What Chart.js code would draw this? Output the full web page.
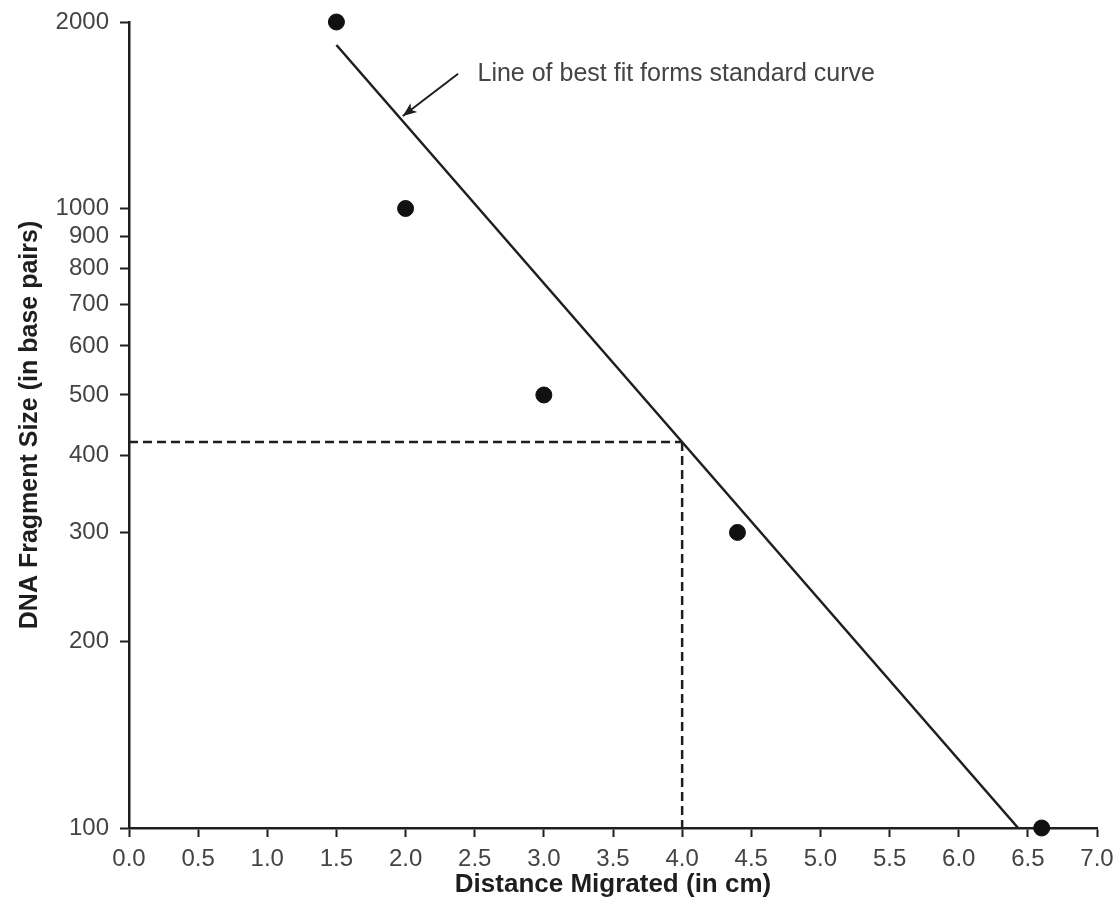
<!DOCTYPE html>
<html>
<head>
<meta charset="utf-8">
<script src="https://cdn.jsdelivr.net/npm/chart.js@4/dist/chart.umd.min.js"></script>
<style>
  body { margin: 0; background: #fff; }
  #wrap { width: 1117px; height: 913px; }
</style>
</head>
<body>
<div id="wrap"><canvas id="chart"></canvas></div>
<script>
// measured standards: distance (cm) vs fragment size (bp)
const distances = [1.5, 2.0, 3.0, 4.4, 6.6];
const sizes = [2000, 1000, 500, 300, 100];

// line of best fit
const fitX = [1.5, 6.43];
const fitY = [1836, 100];

// unknown read at 4.0 cm -> ~420 bp
const unknownX = 4.0;
const unknownY = 420;

const xTicks = [0, 0.5, 1, 1.5, 2, 2.5, 3, 3.5, 4, 4.5, 5, 5.5, 6, 6.5, 7];
const yTicks = [100, 200, 300, 400, 500, 600, 700, 800, 900, 1000, 2000];

const noteText = 'Line of best fit forms standard curve';
const noteAt = [2.52, 1650];
const arrowFrom = [2.38, 1650];
const arrowTo = [1.98, 1410];

const ink = '#1e1e1e';
const labelInk = '#444';
const font = "'Liberation Sans', Arial, sans-serif";

const notePlugin = {
    id: 'note',
    afterDatasetsDraw(chart) {
        const { ctx, scales: { x, y } } = chart;
        const x1 = x.getPixelForValue(arrowFrom[0]), y1 = y.getPixelForValue(arrowFrom[1]);
        const x2 = x.getPixelForValue(arrowTo[0]), y2 = y.getPixelForValue(arrowTo[1]);
        ctx.save();
        ctx.strokeStyle = ink;
        ctx.fillStyle = ink;
        ctx.lineWidth = 2;
        ctx.beginPath();
        ctx.moveTo(x1, y1);
        ctx.lineTo(x2, y2);
        ctx.stroke();
        // arrow head
        const a = Math.atan2(y2 - y1, x2 - x1);
        const L = 15, w = 0.38;
        ctx.beginPath();
        ctx.moveTo(x2, y2);
        ctx.lineTo(x2 - L * Math.cos(a - w), y2 - L * Math.sin(a - w));
        ctx.lineTo(x2 - L * 0.7 * Math.cos(a), y2 - L * 0.7 * Math.sin(a));
        ctx.lineTo(x2 - L * Math.cos(a + w), y2 - L * Math.sin(a + w));
        ctx.closePath();
        ctx.fill();
        ctx.fillStyle = labelInk;
        ctx.font = '25px ' + font;
        ctx.textBaseline = 'middle';
        ctx.textAlign = 'left';
        ctx.fillText(noteText, x.getPixelForValue(noteAt[0]), y.getPixelForValue(noteAt[1]));
        ctx.restore();
    }
};

new Chart(document.getElementById('chart'), {
    type: 'scatter',
    data: {
        datasets: [
            {
                label: 'best fit',
                data: fitX.map((v, i) => ({ x: v, y: fitY[i] })),
                showLine: true,
                borderColor: ink,
                borderWidth: 2.5,
                pointRadius: 0
            },
            {
                label: 'read across',
                data: [{ x: 0, y: unknownY }, { x: unknownX, y: unknownY }],
                showLine: true,
                borderColor: ink,
                borderWidth: 2.5,
                borderDash: [9, 5],
                pointRadius: 0
            },
            {
                label: 'read down',
                data: [{ x: unknownX, y: unknownY }, { x: unknownX, y: 100 }],
                showLine: true,
                borderColor: ink,
                borderWidth: 2.5,
                borderDash: [9, 5],
                pointRadius: 0
            },
            {
                label: 'standards',
                data: distances.map((v, i) => ({ x: v, y: sizes[i] })),
                pointRadius: 8,
                pointBackgroundColor: '#111',
                pointBorderColor: '#111',
                clip: false
            }
        ]
    },
    options: {
        responsive: true,
        maintainAspectRatio: false,
        animation: false,
        layout: { padding: { top: 22, right: 20, left: 0, bottom: 0 } },
        plugins: {
            legend: { display: false },
            tooltip: { enabled: false }
        },
        scales: {
            x: {
                type: 'linear',
                min: 0,
                max: 7,
                afterBuildTicks: s => { s.ticks = xTicks.map(v => ({ value: v })); },
                afterFit: s => { s.height = 85; s.paddingLeft = 0; s.paddingRight = 0; },
                border: { color: ink, width: 2.5 },
                grid: { drawOnChartArea: false, tickLength: 9, tickColor: ink, tickWidth: 2 },
                ticks: {
                    padding: 8,
                    color: labelInk,
                    font: { family: font, size: 24 },
                    callback: v => v.toFixed(1),
                    maxRotation: 0
                },
                title: {
                    display: true,
                    text: 'Distance Migrated (in cm)',
                    color: ink,
                    font: { family: font, size: 26, weight: 'bold' },
                    padding: { top: 0, bottom: 13 }
                }
            },
            y: {
                type: 'logarithmic',
                min: 100,
                max: 2000,
                afterBuildTicks: s => { s.ticks = yTicks.map(v => ({ value: v })); },
                afterFit: s => { s.width = 129; s.paddingTop = 0; s.paddingBottom = 0; },
                border: { color: ink, width: 2.5 },
                grid: { drawOnChartArea: false, tickLength: 9, tickColor: ink, tickWidth: 2 },
                ticks: {
                    padding: 11,
                    color: labelInk,
                    font: { family: font, size: 24 },
                    callback: v => String(v),
                    autoSkip: false
                },
                title: {
                    display: true,
                    text: 'DNA Fragment Size (in base pairs)',
                    color: ink,
                    font: { family: font, size: 25, weight: 'bold' },
                    padding: { top: 15, bottom: 0 }
                }
            }
        }
    },
    plugins: [notePlugin]
});
</script>
</body>
</html>
